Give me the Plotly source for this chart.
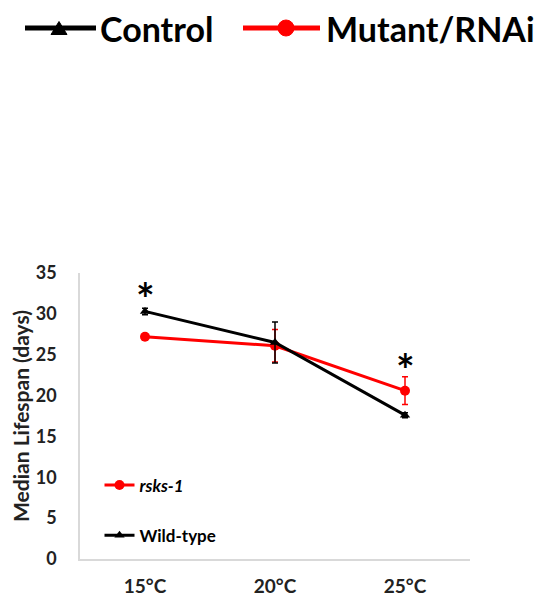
import plotly.graph_objects as go

# ---- data ----
temps = ["15°C", "20°C", "25°C"]
wild_type = [30.3, 26.5, 17.6]
wild_type_err = [0.4, 2.5, 0.3]
rsks1 = [27.2, 26.1, 20.6]
rsks1_err = [0.25, 2.0, 1.7]
sig_temps = ["15°C", "25°C"]
sig_y = [31.9, 23.2]

y_ticks = [0, 5, 10, 15, 20, 25, 30, 35]

W, H = 543, 599
ML, MR, MT, MB = 80, 73, 273, 40
PW, PH = W - ML - MR, H - MT - MB

def px(xp):
    return (xp - ML) / PW

def py(yp):
    return (H - MB - yp) / PH

FONT = "Lato"
BLACK = "#000000"
RED = "#ff0000"

fig = go.Figure()

fig.add_trace(go.Scatter(
    x=temps, y=rsks1, name="<i>rsks-1</i>", mode="lines+markers",
    line=dict(color=RED, width=3),
    marker=dict(symbol="circle", size=10, color=RED),
    error_y=dict(type="data", array=rsks1_err, color=RED, thickness=1.5, width=3),
    legendgroup="a", legendrank=1,
))
fig.add_trace(go.Scatter(
    x=temps, y=wild_type, name="Wild-type", mode="lines+markers",
    line=dict(color=BLACK, width=3),
    marker=dict(symbol="triangle-up", size=9, color=BLACK),
    error_y=dict(type="data", array=wild_type_err, color=BLACK, thickness=1.5, width=3),
    legendgroup="b", legendrank=2,
))

annotations = []
for t, yv in zip(sig_temps, sig_y):
    annotations.append(dict(x=t, y=yv, xref="x", yref="y", text="<b>*</b>",
                            showarrow=False, font=dict(size=44, color=BLACK, family=FONT)))

# top legend (drawn as shapes + text)
shapes = []
ly = 28
shapes.append(dict(type="line", xref="paper", yref="paper", x0=px(25), x1=px(96), y0=py(ly), y1=py(ly),
                   line=dict(color=BLACK, width=5)))
tx, th, tw = 59, 13, 16
shapes.append(dict(type="path", xref="paper", yref="paper",
                   path=f"M {px(tx - tw/2)},{py(ly + th/2)} L {px(tx + tw/2)},{py(ly + th/2)} L {px(tx)},{py(ly - th/2)} Z",
                   fillcolor=BLACK, line=dict(color=BLACK, width=1)))
shapes.append(dict(type="line", xref="paper", yref="paper", x0=px(243), x1=px(320), y0=py(ly), y1=py(ly),
                   line=dict(color=RED, width=5)))
r = 8
shapes.append(dict(type="circle", xref="paper", yref="paper", x0=px(286 - r), x1=px(286 + r),
                   y0=py(ly + r), y1=py(ly - r), fillcolor=RED, line=dict(color=RED, width=1)))
annotations.append(dict(x=px(98), y=py(ly), xref="paper", yref="paper", xanchor="left", yanchor="middle",
                        text="<b>Control</b>", showarrow=False, font=dict(size=34, color=BLACK, family=FONT)))
annotations.append(dict(x=px(324), y=py(ly), xref="paper", yref="paper", xanchor="left", yanchor="middle",
                        text="<b>Mutant/RNAi</b>", showarrow=False, font=dict(size=34, color=BLACK, family=FONT)))

fig.update_layout(
    width=W, height=H,
    margin=dict(l=ML, r=MR, t=MT, b=MB, autoexpand=False),
    paper_bgcolor="white", plot_bgcolor="white",
    font=dict(family=FONT, color="#222222"),
    shapes=shapes, annotations=annotations,
    showlegend=True,
    legend=dict(x=0.05, y=0.32, xanchor="left", yanchor="top",
                bgcolor="rgba(0,0,0,0)", font=dict(size=17, color=BLACK, family=FONT, weight="bold"),
                traceorder="grouped", tracegroupgap=25, itemwidth=30),
    xaxis=dict(range=[-0.5, 2.5], showline=True, linecolor="#d9d9d9", linewidth=1.5,
               showgrid=False, ticks="", zeroline=False, automargin=False,
               tickfont=dict(size=19, color="#222222", family=FONT, weight="bold"),
               ticklabelstandoff=9),
    yaxis=dict(range=[0, 35], tickvals=y_ticks, showline=True, linecolor="#d9d9d9", linewidth=1.5,
               showgrid=False, ticks="", zeroline=False, automargin=False,
               tickfont=dict(size=18, color="#222222", family=FONT, weight="bold"),
               ticklabelstandoff=18,
               title=dict(text="Median Lifespan (days)", standoff=0,
                          font=dict(size=21, color="#222222", family=FONT, weight="bold"))),
)

fig.write_html("out.html")
